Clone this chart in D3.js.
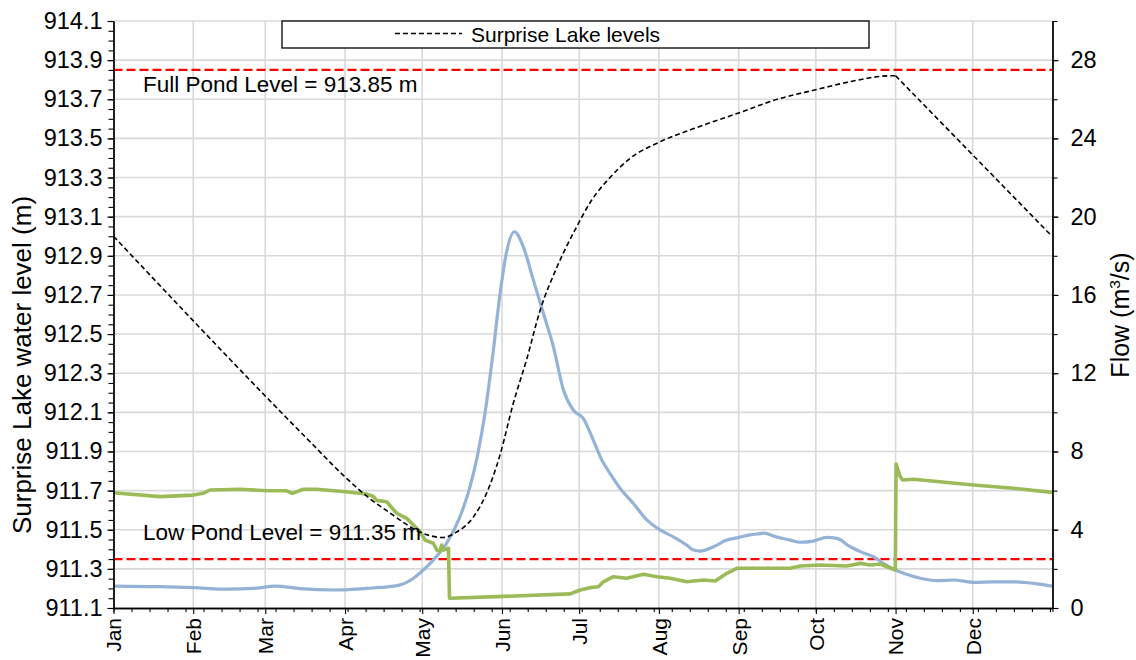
<!DOCTYPE html>
<html><head><meta charset="utf-8">
<script src="https://cdn.jsdelivr.net/npm/d3@7"></script>
<style>
body{margin:0;background:#fff}
svg{display:block;font-family:"Liberation Sans",Arial,sans-serif}
</style>
</head><body>
<svg id="c" width="1136" height="660"></svg>
<script>
// ---------- DATA (day of year from Jan 1) ----------
const levelDay = [0, 76, 90, 100, 107, 113, 118, 123, 128, 133, 140, 145, 150.2, 155.4, 160.6, 165.8, 172.3, 180.1, 185.9, 193, 201, 212, 225.5, 243, 258, 273.4, 286.4, 302, 304];
const levelM   = [913.00, 911.955, 911.77, 911.655, 911.59, 911.535, 911.495, 911.47, 911.46, 911.485, 911.567, 911.686, 911.88, 912.146, 912.37, 912.62, 912.84, 913.05, 913.185, 913.30, 913.40, 913.48, 913.55, 913.63, 913.70, 913.75, 913.79, 913.82, 913.82];
const levelDrawdownDay = [304, 364.8];
const levelDrawdownM   = [913.82, 913.00];

const blueDay  = [0, 18, 31, 44, 54.3, 62.8, 72.5, 85.4, 98.4, 104, 111.4, 116.6, 120.4, 124.3, 129.5, 134.7, 138.6, 141.5, 144.4, 147.5, 150.2, 152.8, 155.8, 159.3, 163.2, 167.1, 171, 174.9, 178.7, 182.6, 186.5, 189.8, 193, 196.9, 202, 207.3, 212.4, 217.6, 222.8, 225.4, 228, 233.2, 238.4, 243.5, 247.4, 251.3, 253.2, 256.5, 263, 267, 272, 277.3, 281.2, 286.4, 290.3, 295.4, 299.3, 303.9, 307.1, 313.6, 320, 326.5, 334.3, 342.1, 349.8, 357.6, 364.8];
const blueFlow = [1.12, 1.09, 1.04, 0.96, 1.00, 1.12, 0.99, 0.92, 1.00, 1.05, 1.18, 1.52, 1.94, 2.45, 3.31, 4.67, 6.20, 7.80, 9.95, 13.0, 16.0, 18.2, 19.23, 18.46, 16.76, 15.06, 13.35, 11.14, 10.12, 9.69, 8.58, 7.56, 6.88, 6.12, 5.35, 4.50, 3.99, 3.64, 3.22, 2.96, 2.91, 3.13, 3.47, 3.62, 3.74, 3.80, 3.83, 3.68, 3.47, 3.36, 3.42, 3.61, 3.56, 3.13, 2.88, 2.62, 2.28, 1.94, 1.77, 1.52, 1.40, 1.43, 1.31, 1.34, 1.34, 1.26, 1.12];

const greenDay  = [0, 18, 31, 34.9, 37.5, 49.2, 59.6, 67.3, 69.5, 73.8, 79, 90.1, 98.4, 99.7, 101, 102.3, 106.2, 108, 110.1, 114, 116.6, 119.2, 121.1, 124.3, 125.7, 126.7, 127.6, 128.2, 130.2, 130.6, 149, 177.5, 181.4, 185.3, 188.5, 190.4, 194.3, 199.5, 206, 211.2, 216.4, 222.9, 229.3, 233.9, 238.4, 242.3, 248.8, 263, 267, 274.7, 285.1, 290.3, 294.2, 298, 303.9, 304.2, 305.8, 306.8, 311, 334.3, 349.8, 364.8];
const greenFlow = [5.89, 5.69, 5.77, 5.86, 6.03, 6.07, 5.99, 5.99, 5.86, 6.07, 6.07, 5.94, 5.83, 5.77, 5.70, 5.50, 5.43, 5.15, 4.84, 4.58, 4.24, 3.90, 3.47, 3.31, 2.96, 2.88, 3.22, 2.96, 3.05, 0.50, 0.58, 0.72, 0.92, 1.04, 1.09, 1.34, 1.60, 1.52, 1.72, 1.60, 1.52, 1.34, 1.43, 1.38, 1.77, 2.03, 2.03, 2.03, 2.15, 2.20, 2.15, 2.28, 2.20, 2.25, 1.94, 7.36, 6.71, 6.54, 6.58, 6.29, 6.12, 5.91];

const fullPond = 913.85, lowPond = 911.35;
const fullPondLabel = "Full Pond Level = 913.85 m";
const lowPondLabel  = "Low Pond Level = 911.35 m";
const leftTicks  = [911.1, 911.3, 911.5, 911.7, 911.9, 912.1, 912.3, 912.5, 912.7, 912.9, 913.1, 913.3, 913.5, 913.7, 913.9, 914.1];
const rightTicks = [0, 4, 8, 12, 16, 20, 24, 28];
const monthLabels = ["Jan","Feb","Mar","Apr","May","Jun","Jul","Aug","Sep","Oct","Nov","Dec"];
const legendLabel = "Surprise Lake levels";
const leftTitle = "Surprise Lake water level (m)";

// ---------- LAYOUT ----------
const L = 113.5, R = 1052.5, T = 21, B = 608;
const t0 = Date.UTC(2021, 0, 1);
const toDate = d => new Date(t0 + d * 864e5);
const x = d3.scaleUtc().domain([new Date(t0), new Date(Date.UTC(2022, 0, 1))]).range([L, R]);
const yL = d3.scaleLinear().domain([911.1, 914.1]).range([B, T]);
const yR = d3.scaleLinear().domain([0, 30]).range([B, T]);

const svg = d3.select("#c");
svg.append("rect").attr("width", 1136).attr("height", 660).attr("fill", "#fff");

const grid = svg.append("g").attr("stroke", "#d9d9d9").attr("stroke-width", 1.6);
leftTicks.slice(1).forEach(v => grid.append("line").attr("x1", L).attr("x2", R).attr("y1", yL(v)).attr("y2", yL(v)));
const monthDates = monthLabels.map((m, i) => new Date(Date.UTC(2021, i, 1)));
monthDates.slice(1).forEach(d => grid.append("line").attr("x1", x(d)).attr("x2", x(d)).attr("y1", T).attr("y2", B));

// pond level lines
[fullPond, lowPond].forEach(v => svg.append("line")
  .attr("x1", L).attr("x2", R).attr("y1", yL(v)).attr("y2", yL(v))
  .attr("stroke", "#ff0000").attr("stroke-width", 2.4).attr("stroke-dasharray", "9,4"));

// series
svg.append("path").datum(blueDay.map((d, i) => [d, blueFlow[i]]))
  .attr("d", d3.line().x(d => x(toDate(d[0]))).y(d => yR(d[1])).curve(d3.curveMonotoneX)).attr("fill", "none")
  .attr("stroke", "#95b3d7").attr("stroke-width", 3.2).attr("stroke-linejoin", "round");
svg.append("path").datum(greenDay.map((d, i) => [d, greenFlow[i]]))
  .attr("d", d3.line().x(d => x(toDate(d[0]))).y(d => yR(d[1])).curve(d3.curveLinear)).attr("fill", "none")
  .attr("stroke", "#9bbb59").attr("stroke-width", 3.6).attr("stroke-linejoin", "round");

svg.append("path").datum(levelDay.map((d, i) => [d, levelM[i]]))
  .attr("d", d3.line().x(d => x(toDate(d[0]))).y(d => yL(d[1])).curve(d3.curveMonotoneX)).attr("fill", "none")
  .attr("stroke", "#000").attr("stroke-width", 1.6).attr("stroke-dasharray", "5,3");
svg.append("path").datum(levelDrawdownDay.map((d, i) => [d, levelDrawdownM[i]]))
  .attr("d", d3.line().x(d => x(toDate(d[0]))).y(d => yL(d[1]))).attr("fill", "none")
  .attr("stroke", "#000").attr("stroke-width", 1.6).attr("stroke-dasharray", "5,3");

// pond labels
svg.append("text").attr("x", 143).attr("y", 92).attr("font-size", 22.5).attr("fill", "#000").text(fullPondLabel);
svg.append("text").attr("x", 143).attr("y", 539.5).attr("font-size", 22.5).attr("fill", "#000").text(lowPondLabel);

// axes
function styleAxis(g) {
  g.select(".domain").attr("stroke", "#000").attr("stroke-width", 1.3);
  g.selectAll(".tick line").attr("stroke", "#000").attr("stroke-width", 1.1);
  g.selectAll("text").attr("fill", "#000").attr("font-family", '"Liberation Sans",Arial,sans-serif');
}
svg.append("g").attr("transform", `translate(${L},0)`)
  .call(d3.axisLeft(yL).tickValues(d3.range(0, 61).map(i => 911.1 + i * 0.05)).tickSize(5).tickSizeOuter(0).tickFormat(""))
  .call(styleAxis);
const gl = svg.append("g").attr("transform", `translate(${L},0)`)
  .call(d3.axisLeft(yL).tickValues(leftTicks).tickFormat(d3.format(".1f")).tickSize(6).tickSizeOuter(0).tickPadding(5))
  .call(styleAxis);
gl.selectAll("text").attr("font-size", 23.5);

svg.append("g").attr("transform", `translate(${R},0)`)
  .call(d3.axisRight(yR).tickValues(d3.range(0, 31, 2)).tickSize(5).tickSizeOuter(0).tickFormat(""))
  .call(styleAxis);
const gr = svg.append("g").attr("transform", `translate(${R},0)`)
  .call(d3.axisRight(yR).tickValues(rightTicks).tickFormat(d3.format("d")).tickSize(6).tickSizeOuter(0).tickPadding(12))
  .call(styleAxis);
gr.selectAll("text").attr("font-size", 23.5);

const weekTicks = d3.range(0, 365, 7).map(toDate);
svg.append("g").attr("transform", `translate(0,${B})`)
  .call(d3.axisBottom(x).tickValues(weekTicks.concat([new Date(Date.UTC(2022,0,1))])).tickSize(4).tickSizeOuter(0).tickFormat(""))
  .call(styleAxis);
const gb = svg.append("g").attr("transform", `translate(0,${B})`)
  .call(d3.axisBottom(x).tickValues(monthDates).tickSize(6).tickSizeOuter(0).tickFormat((d, i) => monthLabels[i]))
  .call(styleAxis);
gb.selectAll("text").attr("font-size", 21).attr("text-anchor", "end")
  .attr("transform", "rotate(-90)").attr("x", -10).attr("y", 0).attr("dy", "0.35em");

// axis titles
svg.append("text").attr("transform", "translate(31,365) rotate(-90)").attr("text-anchor", "middle")
  .attr("font-size", 26).attr("fill", "#000").text(leftTitle);
const rt = svg.append("text").attr("transform", "translate(1129,315) rotate(-90)").attr("text-anchor", "middle")
  .attr("font-size", 25).attr("fill", "#000");
rt.append("tspan").text("Flow (m");
rt.append("tspan").attr("font-size", 15.5).attr("dy", -9).text("3");
rt.append("tspan").attr("dy", 9).text("/s)");

// legend
svg.append("rect").attr("x", 282).attr("y", 21).attr("width", 587).attr("height", 27)
  .attr("fill", "#fff").attr("stroke", "#000").attr("stroke-width", 1.3);
svg.append("line").attr("x1", 395).attr("x2", 462).attr("y1", 33.5).attr("y2", 33.5)
  .attr("stroke", "#000").attr("stroke-width", 1.6).attr("stroke-dasharray", "5,3");
svg.append("text").attr("x", 471).attr("y", 41.5).attr("font-size", 21).attr("fill", "#000").text(legendLabel);
</script>
</body></html>
